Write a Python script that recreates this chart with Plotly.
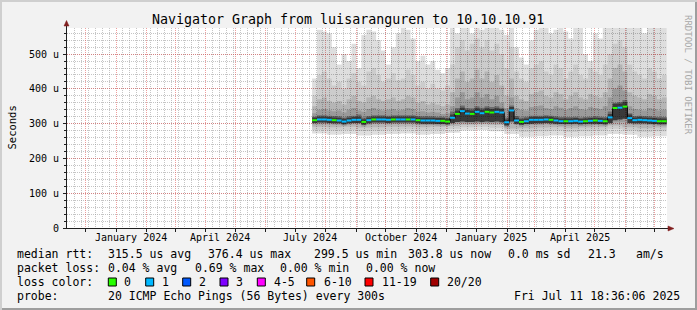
import plotly.graph_objects as go
import pandas as pd

# ---------------- data ----------------
series_start = "2024-07-18"
bin_days = 5

median_us = [310, 312, 312, 311, 310, 309, 306, 309, 311, 311,
             305, 310, 312, 312, 312, 311, 312, 312, 312, 312,
             312, 310, 309, 309, 309, 308, 308, 306, 317, 328,
             336, 329, 328, 334, 330, 334, 332, 334, 332, 304,
             338, 309, 305, 307, 311, 311, 311, 312, 311, 309,
             307, 307, 307, 308, 306, 307, 308, 309, 308, 307,
             318, 345, 346, 349, 316, 310, 311, 310, 309, 308,
             307, 307]

loss_count = [0, 1, 1, 1, 0, 1, 1, 1, 1, 1,
              0, 1, 0, 1, 1, 1, 0, 1, 1, 0,
              1, 0, 1, 1, 1, 1, 0, 0, 1, 0,
              1, 1, 0, 1, 1, 0, 0, 1, 1, 1,
              1, 1, 0, 1, 1, 1, 1, 1, 0, 1,
              1, 0, 1, 1, 1, 0, 1, 0, 1, 0,
              1, 0, 1, 0, 1, 1, 1, 1, 1, 1,
              0, 0]

smoke_hi1 = [430, 570, 565, 560, 520, 470, 500, 480, 530, 460,
             555, 570, 565, 540, 510, 470, 520, 560, 575, 570,
             545, 480, 495, 470, 480, 455, 445, 460,
             575, 560, 575, 575, 560, 575, 570, 575, 575, 575, 570, 555, 575,
             520, 490, 470, 540, 570, 575, 575, 560, 570, 575,
             565, 545, 575, 575, 500, 480, 560, 545, 575,
             575, 575, 575, 575,
             575, 575, 575, 560, 575, 575, 575, 575]

smoke_hi2 = [380, 440, 450, 430, 410, 420, 400, 430, 445, 420,
             410, 450, 460, 440, 420, 430, 445, 425, 430, 455,
             440, 410, 420, 400, 415, 400, 395, 410,
             470, 520, 540, 510, 530, 545, 520, 540, 510, 530, 500, 460, 520,
             450, 430, 420, 460, 470, 480, 450, 440, 470, 460,
             430, 450, 470, 440, 430, 460, 450, 440, 470,
             500, 530, 540, 520,
             470, 450, 440, 430, 460, 450, 430, 440]

smoke_hi3 = [350, 370, 375, 365, 360, 365, 355, 370, 380, 365,
             360, 375, 380, 370, 365, 370, 375, 365, 370, 380,
             375, 360, 365, 355, 360, 355, 350, 355,
             390, 430, 450, 420, 430, 455, 430, 450, 420, 440, 410, 380, 430,
             380, 370, 365, 385, 390, 395, 380, 375, 390, 385,
             370, 380, 390, 375, 370, 385, 380, 375, 390,
             430, 460, 470, 450,
             390, 380, 375, 370, 385, 380, 370, 375]

smoke_hi4 = [330, 340, 342, 338, 336, 338, 332, 340, 345, 338,
             334, 342, 345, 340, 338, 340, 342, 338, 340, 345,
             342, 335, 336, 332, 334, 332, 328, 330,
             350, 375, 390, 370, 375, 390, 375, 385, 370, 380, 360, 345, 375,
             345, 340, 338, 348, 350, 352, 345, 342, 350, 346,
             340, 345, 350, 342, 340, 348, 345, 342, 350,
             375, 400, 410, 395,
             350, 342, 340, 338, 345, 342, 338, 340]

smoke_hi5 = [320, 324, 324, 323, 322, 321, 318, 321, 323, 326,
             318, 322, 324, 324, 324, 323, 324, 324, 324, 324,
             324, 322, 321, 321, 321, 320, 320, 318,
             335, 345, 352, 345, 344, 350, 346, 350, 348, 350, 346, 318, 352,
             322, 318, 320, 323, 323, 323, 324, 323, 321, 319,
             319, 319, 320, 318, 319, 320, 321, 320, 319,
             335, 360, 362, 368,
             330, 322, 323, 322, 321, 320, 319, 319]

core_hi = [318, 320, 320, 319, 318, 317, 314, 317, 319, 320,
           313, 318, 320, 320, 320, 319, 320, 320, 320, 320,
           320, 318, 317, 317, 317, 316, 316, 314,
           326, 338, 346, 339, 338, 344, 340, 344, 342, 344, 342, 312, 348,
           317, 313, 315, 319, 319, 319, 320, 319, 317, 315,
           315, 315, 316, 314, 315, 316, 317, 316, 315,
           328, 357, 358, 362,
           326, 318, 319, 318, 317, 316, 315, 315]

core_lo = [302, 303, 303, 302, 301, 301, 298, 301, 302, 302,
           297, 301, 303, 303, 303, 302, 303, 303, 303, 303,
           303, 301, 300, 300, 300, 299, 299, 298,
           302, 305, 306, 305, 305, 306, 305, 306, 305, 306, 304, 295, 306,
           300, 297, 299, 300, 301, 301, 302, 301, 300, 299,
           299, 299, 300, 298, 299, 300, 300, 299, 298,
           302, 310, 312, 314,
           302, 301, 301, 301, 300, 299, 298, 298]

smoke_lo4 = [298, 298, 299, 298, 297, 297, 294, 297, 298, 298,
             292, 297, 299, 299, 299, 298, 299, 299, 299, 299,
             299, 297, 296, 296, 296, 295, 295, 294,
             298, 301, 302, 301, 300, 302, 301, 302, 301, 302, 300, 290, 302,
             296, 292, 294, 297, 297, 297, 298, 297, 296, 294,
             294, 294, 295, 293, 294, 295, 296, 295, 294,
             298, 303, 304, 304,
             298, 297, 297, 297, 296, 295, 294, 294]

# lower smoke edges, one value per 15 days (3 bins)
coarse_lo1 = [272, 268, 270, 266, 268, 270, 272, 268, 270, 274, 280, 282,
              278, 270, 262, 264, 266, 262, 264, 266, 270, 268, 262, 264]
coarse_lo2 = [282, 280, 282, 279, 280, 282, 283, 280, 282, 285, 290, 291,
              288, 282, 276, 278, 280, 276, 278, 280, 285, 280, 276, 278]
coarse_lo3 = [291, 290, 291, 289, 290, 291, 292, 290, 291, 293, 297, 298,
              296, 286, 287, 289, 290, 287, 289, 290, 295, 290, 287, 289]

loss_colors = {0: "#26ff00", 1: "#00b8ff", 2: "#0059ff", 3: "#7e00ff",
               5: "#ff00ff", 10: "#ff5500", 19: "#ff0000", 20: "#a00000"}
loss_legend = ["0", "1", "2", "3", "4-5", "6-10", "11-19", "20/20"]

x_range = ["2023-11-12 06:00", "2025-07-13 05:00"]
month_label_dates = ["2024-01-16", "2024-04-16", "2024-07-16",
                     "2024-10-16", "2025-01-16", "2025-04-16"]
month_labels = ["January 2024", "April 2024", "July 2024",
                "October 2024", "January 2025", "April 2025"]
y_tickvals = [0, 100, 200, 300, 400, 500]
y_ticktext = ["0", "100 u", "200 u", "300 u", "400 u", "500 u"]

title = "Navigator Graph from luisaranguren to 10.10.10.91"
stats_rows = [
    ["median rtt:", "315.5 us avg", "376.4 us max", "299.5 us min",
     "303.8 us now", "0.0 ms sd", "21.3", "am/s"],
    ["packet loss:", "0.04 % avg", "0.69 % max", "0.00 % min", "0.00 % now"],
]
probe_text = "20 ICMP Echo Pings (56 Bytes) every 300s"
stamp_text = "Fri Jul 11 18:36:06 2025"

# ---------------- layout helpers ----------------
FONT = "DejaVu Sans Mono"
W, H = 697, 310
L, R, T, B = 67, 30, 28, 82
PW, PH = W - L - R, H - T - B


def px(x):
    return (x - L) / PW


def py(y):
    return (H - B - y) / PH


n = len(median_us)
edges = pd.date_range(series_start, periods=n + 1, freq=f"{bin_days}D")
lo1 = [coarse_lo1[i // 3] for i in range(n)]
lo2 = [coarse_lo2[i // 3] for i in range(n)]
lo3 = [coarse_lo3[i // 3] for i in range(n)]


def step(v):
    return list(v) + [v[-1]]


fig = go.Figure()

# translucent smoke so that the grid shows through, like rrdtool
bands = [
    (lo1, smoke_hi1, "rgba(0,0,0,0.13)"),
    (lo2, smoke_hi2, "rgba(0,0,0,0.08)"),
    (lo3, smoke_hi3, "rgba(0,0,0,0.11)"),
    (smoke_lo4, smoke_hi4, "rgba(0,0,0,0.15)"),
    (core_lo, smoke_hi5, "rgba(0,0,0,0.30)"),
    (core_lo, core_hi, "rgba(0,0,0,0.45)"),
]
for lo, hi, col in bands:
    fig.add_trace(go.Scatter(x=edges, y=step(lo), mode="lines",
                             line=dict(width=0, shape="hv"),
                             hoverinfo="skip", showlegend=False))
    fig.add_trace(go.Scatter(x=edges, y=step(hi), mode="lines",
                             line=dict(width=0, shape="hv"),
                             fill="tonexty", fillcolor=col,
                             hoverinfo="skip", showlegend=False))

# black connector of the median
fig.add_trace(go.Scatter(x=edges, y=step(median_us), mode="lines",
                         line=dict(width=1, shape="hv", color="#000000"),
                         hoverinfo="skip", showlegend=False))
# coloured median segments, one trace per loss colour
for key, col in loss_colors.items():
    xs, ys = [], []
    for i, (m, c) in enumerate(zip(median_us, loss_count)):
        if c == key:
            xs += [edges[i], edges[i + 1], None]
            ys += [m, m, None]
    if xs:
        fig.add_trace(go.Scatter(x=xs, y=ys, mode="lines",
                                 line=dict(width=2, color=col),
                                 connectgaps=False,
                                 hoverinfo="skip", showlegend=False))

GRID = "rgba(150,150,150,0.55)"
MGRID = "rgba(222,79,79,0.55)"
AXIS = "#1f1f1f"

fig.update_layout(
    width=W, height=H,
    margin=dict(l=L, r=R, t=T, b=B, pad=0),
    paper_bgcolor="#f2f2f2", plot_bgcolor="#ffffff",
    template="none",
    font=dict(family=FONT, size=10, color="#000000"),
    showlegend=False,
    xaxis=dict(type="date", range=x_range, tickmode="linear",
               tick0="2024-01-01", dtick="M1", showticklabels=False,
               showgrid=True, gridcolor=MGRID, griddash="1px,1px",
               gridwidth=1, ticks="outside", ticklen=3, tickcolor=AXIS,
               showline=True, linecolor=AXIS, linewidth=1, zeroline=False,
               minor=dict(tickmode="linear", tick0="2024-01-01",
                          dtick=7 * 86400000, showgrid=True, gridcolor=GRID,
                          griddash="1px,1px", ticks="")),
    yaxis=dict(range=[0, 575], tickmode="array", tickvals=y_tickvals,
               ticktext=y_ticktext, showgrid=True, gridcolor=MGRID,
               griddash="1px,1px", ticks="outside", ticklen=3,
               tickcolor=AXIS, showline=True, linecolor=AXIS, linewidth=1,
               zeroline=False, ticklabelstandoff=2,
               tickfont=dict(family=FONT, size=10, color="#000000"),
               minor=dict(tickmode="linear", tick0=0, dtick=20,
                          showgrid=True, gridcolor=GRID, griddash="1px,1px",
                          ticks="outside", ticklen=2, tickcolor=AXIS)),
)

ann = []


def text(x, y, s, size=11.5, anchor="left", color="#000000", **kw):
    ann.append(dict(x=px(x), y=py(y), xref="paper", yref="paper", text=s,
                    showarrow=False, xanchor=anchor, yanchor="middle",
                    font=dict(family=FONT, size=size, color=color),
                    borderpad=0, **kw))


text(347.5, 19, title, size=13.3, anchor="center")
text(11, 127.5, "Seconds", size=10.5, anchor="center", textangle=-90)
text(688, 75, "RRDTOOL / TOBI OETIKER", size=9, anchor="center",
     color="#a8a8a8", textangle=90)

for d, s in zip(month_label_dates, month_labels):
    ann.append(dict(x=d, y=py(237.5), xref="x", yref="paper", text=s,
                    showarrow=False, xanchor="center", yanchor="middle",
                    font=dict(family=FONT, size=10, color="#000000")))

row1_x = [16, 107.3, 207.3, 312.7, 407.3, 507.3, 586.7, 635]
for xx, s in zip(row1_x, stats_rows[0]):
    text(xx, 254, s)
row2_x = [16, 107.3, 193.7, 278.7, 365]
for xx, s in zip(row2_x, stats_rows[1]):
    text(xx, 268, s)
text(16, 282, "loss color:")
box_x = [108.3, 145.7, 182.7, 220, 257.3, 306.7, 365, 430.7]
lab_x = [123, 160.7, 198, 235, 272.7, 322.7, 380.7, 445.7]
shapes = []
for bx, lx, s, col in zip(box_x, lab_x, loss_legend, loss_colors.values()):
    text(lx, 282, s)
    shapes.append(dict(type="rect", xref="paper", yref="paper",
                       x0=px(bx), x1=px(bx + 8), y0=py(286), y1=py(278),
                       fillcolor=col, line=dict(color="#000000", width=1)))
text(16, 296, "probe:")
text(107.3, 296, probe_text)
text(513.3, 296, stamp_text)

# frame shading
shapes += [
    dict(type="rect", xref="paper", yref="paper", x0=px(0), x1=px(W),
         y0=py(0), y1=py(2), fillcolor="#cfcfcf", line=dict(width=0)),
    dict(type="rect", xref="paper", yref="paper", x0=px(0), x1=px(2),
         y0=py(0), y1=py(H), fillcolor="#cfcfcf", line=dict(width=0)),
    dict(type="rect", xref="paper", yref="paper", x0=px(2), x1=px(W),
         y0=py(H - 2), y1=py(H), fillcolor="#9e9e9e", line=dict(width=0)),
    dict(type="rect", xref="paper", yref="paper", x0=px(W - 2), x1=px(W),
         y0=py(2), y1=py(H), fillcolor="#9e9e9e", line=dict(width=0)),
    # axis extensions and arrows
    dict(type="line", xref="paper", yref="paper", x0=px(66.5), x1=px(66.5),
         y0=py(228), y1=py(24), line=dict(color=AXIS, width=1)),
    dict(type="line", xref="paper", yref="paper", x0=px(63), x1=px(669),
         y0=py(228.5), y1=py(228.5), line=dict(color=AXIS, width=1)),
    dict(type="path", xref="paper", yref="paper",
         path=f"M {px(64)} {py(26)} L {px(66.5)} {py(20.5)} L {px(69)} {py(26)} Z",
         fillcolor="#801f1f", line=dict(color="#801f1f", width=0.5)),
    dict(type="path", xref="paper", yref="paper",
         path=f"M {px(668)} {py(226)} L {px(674)} {py(228.5)} L {px(668)} {py(231)} Z",
         fillcolor="#801f1f", line=dict(color="#801f1f", width=0.5)),
]

fig.update_layout(annotations=ann, shapes=shapes)
fig.write_html("out.html")
